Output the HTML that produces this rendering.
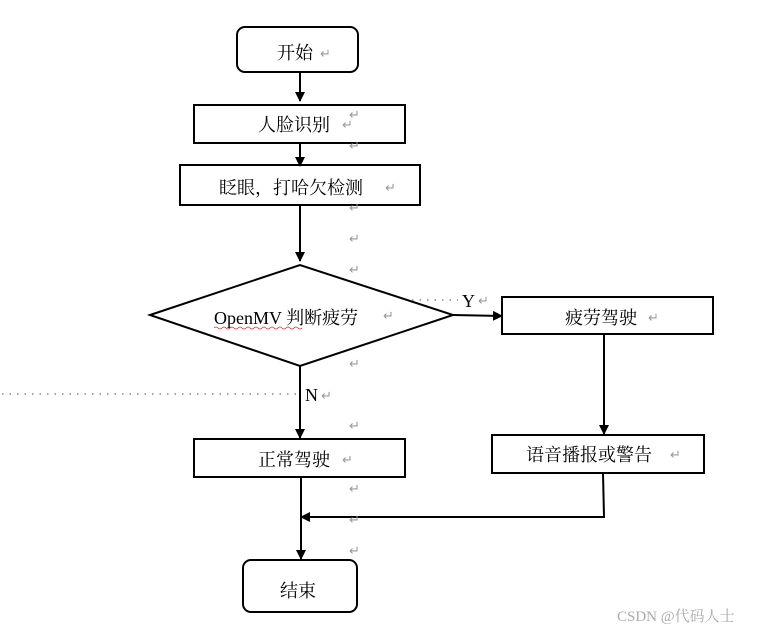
<!DOCTYPE html>
<html><head><meta charset="utf-8"><style>
html,body{margin:0;padding:0;background:#fff;}
text{font-family:"Liberation Serif","Noto Serif CJK SC","Noto Sans CJK SC",serif;}
</style></head><body>
<svg width="769" height="634" viewBox="0 0 769 634" xmlns="http://www.w3.org/2000/svg">
<defs><marker id="a" markerWidth="10" markerHeight="10" refX="9" refY="5" orient="auto" markerUnits="userSpaceOnUse"><path d="M0,0 L10,5 L0,10 z" fill="#000"/></marker></defs>
<g fill="none" stroke="#000" stroke-width="2">
<rect x="237" y="27" width="121" height="45" rx="8"/>
<rect x="194" y="105" width="211" height="38"/>
<rect x="180" y="165" width="240" height="40"/>
<polygon points="150,315 300,265 453,315 300,366"/>
<rect x="502" y="297" width="211" height="37"/>
<rect x="492" y="435" width="212" height="38"/>
<rect x="194" y="439" width="211" height="38"/>
<rect x="243" y="560" width="114" height="52" rx="8"/>
<line x1="300" y1="72" x2="300" y2="101" marker-end="url(#a)"/>
<line x1="300" y1="143" x2="300" y2="166" marker-end="url(#a)"/>
<line x1="300" y1="205" x2="300" y2="261" marker-end="url(#a)"/>
<line x1="453" y1="315" x2="502" y2="316" marker-end="url(#a)"/>
<line x1="604" y1="334" x2="604" y2="434" marker-end="url(#a)"/>
<polyline points="603,473 604,517 301,517" marker-end="url(#a)"/>
<line x1="300" y1="366" x2="300" y2="438" marker-end="url(#a)"/>
<line x1="301" y1="477" x2="301" y2="559" marker-end="url(#a)"/>
</g>
<g stroke="#888" stroke-width="1.5" stroke-dasharray="1.5,6">
<line x1="2" y1="394" x2="298" y2="394"/>
<line x1="412" y1="300" x2="458" y2="300"/>
</g>
<g font-size="18" fill="#000">
<text x="277" y="59">开始</text>
<text x="258" y="131">人脸识别</text>
<text x="219" y="194">眨眼，打哈欠检测</text>
<text x="214" y="324">OpenMV 判断疲劳</text>
<text x="565" y="324">疲劳驾驶</text>
<text x="526" y="461">语音播报或警告</text>
<text x="258" y="466">正常驾驶</text>
<text x="280" y="597">结束</text>
<text x="462" y="307">Y</text>
<text x="305" y="401">N</text>
</g>
<path d="M214,328 q2,-2 4,0 t4,0 t4,0 t4,0 t4,0 t4,0 t4,0 t4,0 t4,0 t4,0 t4,0 t4,0 t4,0 t4,0 t4,0 t4,0 t4,0 t4,0 t4,0 t4,0 t4,0 t4,0" fill="none" stroke="#e03030" stroke-width="0.8"/>
<g font-size="13" fill="#999" font-family="'DejaVu Sans',sans-serif">
<text x="320" y="58">↵</text>
<text x="342" y="129">↵</text><text x="349" y="119">↵</text>
<text x="349" y="150">↵</text>
<text x="385" y="192">↵</text>
<text x="349" y="212">↵</text>
<text x="349" y="243">↵</text>
<text x="349" y="274">↵</text>
<text x="383" y="320">↵</text>
<text x="478" y="305">↵</text>
<text x="349" y="368">↵</text>
<text x="321" y="400">↵</text>
<text x="349" y="430">↵</text>
<text x="342" y="464">↵</text>
<text x="349" y="493">↵</text>
<text x="349" y="524">↵</text>
<text x="349" y="555">↵</text>
<text x="648" y="322">↵</text>
<text x="670" y="459">↵</text>
</g>
<text x="617" y="621" font-size="15" fill="#aaa" font-family="'Liberation Sans','Noto Sans CJK SC',sans-serif">CSDN @代码人士</text>
</svg>
</body></html>
